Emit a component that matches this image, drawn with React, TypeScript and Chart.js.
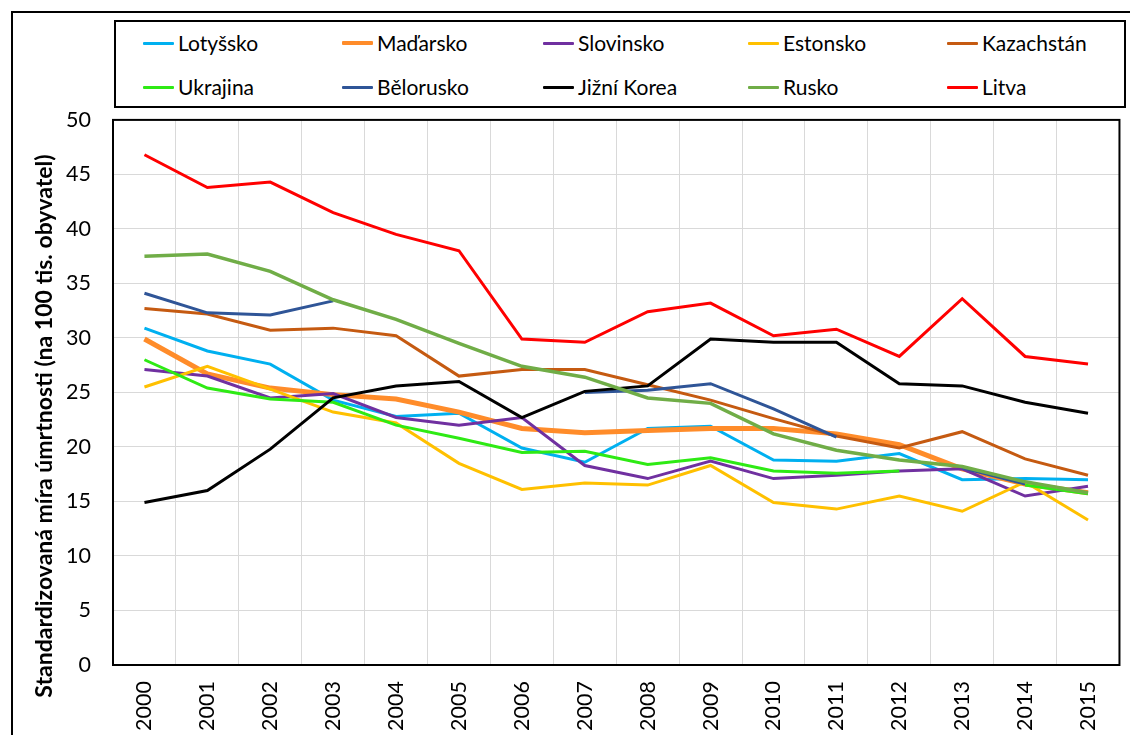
import React, { useEffect, useRef } from "react";
import { Chart, registerables } from "chart.js";
Chart.register(...registerables);

const years = ["2000", "2001", "2002", "2003", "2004", "2005", "2006", "2007", "2008", "2009", "2010", "2011", "2012", "2013", "2014", "2015"];

const lotyssko = [30.9, 28.8, 27.6, 24.3, 22.8, 23.1, 19.9, 18.6, 21.7, 21.9, 18.8, 18.7, 19.4, 17.0, 17.1, 17.0];
const madarsko = [29.9, 26.7, 25.4, 24.8, 24.4, 23.2, 21.7, 21.3, 21.5, 21.7, 21.7, 21.2, 20.2, 18.0, 16.6, 15.8];
const slovinsko = [27.1, 26.5, 24.5, 24.9, 22.7, 22.0, 22.7, 18.3, 17.1, 18.7, 17.1, 17.4, 17.8, 18.0, 15.5, 16.4];
const estonsko = [25.5, 27.4, 25.3, 23.2, 22.2, 18.5, 16.1, 16.7, 16.5, 18.3, 14.9, 14.3, 15.5, 14.1, 16.8, 13.3];
const kazachstan = [32.7, 32.2, 30.7, 30.9, 30.2, 26.5, 27.1, 27.1, 25.7, 24.3, 22.6, 21.0, 19.9, 21.4, 18.9, 17.4];
const ukrajina = [28.0, 25.4, 24.4, 24.1, 22.0, 20.8, 19.5, 19.6, 18.4, 19.0, 17.8, 17.6, 17.8, null, 16.5, 15.7];
const belorusko = [34.1, 32.3, 32.1, 33.4, null, null, null, 25.0, 25.2, 25.8, 23.5, 20.9, null, 18.1, 16.6, null];
const jizniKorea = [14.9, 16.0, 19.8, 24.5, 25.6, 26.0, 22.7, 25.1, 25.6, 29.9, 29.6, 29.6, 25.8, 25.6, 24.1, 23.1];
const rusko = [37.5, 37.7, 36.1, 33.5, 31.7, 29.5, 27.4, 26.4, 24.5, 24.0, 21.2, 19.7, 18.8, 18.2, 16.8, 15.8];
const litva = [46.8, 43.8, 44.3, 41.5, 39.5, 38.0, 29.9, 29.6, 32.4, 33.2, 30.2, 30.8, 28.3, 33.6, 28.3, 27.6];

const seriesNames = ["Lotyšsko", "Maďarsko", "Slovinsko", "Estonsko", "Kazachstán", "Ukrajina", "Bělorusko", "Jižní Korea", "Rusko", "Litva"];
const seriesValues = [lotyssko, madarsko, slovinsko, estonsko, kazachstan, ukrajina, belorusko, jizniKorea, rusko, litva];
const seriesColors = ["#00b0f0", "#ff8c2a", "#7030a0", "#ffc000", "#c55a11", "#2eea14", "#2f5597", "#000000", "#70ad47", "#ff0000"];
const seriesWidths = [3, 5, 3, 3, 3, 3, 3, 3, 3.5, 3];

const yTicks = { min: 0, max: 50, step: 5 };
const yTitle = "Standardizovaná míra úmrtnosti (na 100 tis. obyvatel)";

const FONT = "Lato, 'Open Sans', sans-serif";
const CANVAS_TOP = 85;

const framePlugin = {
  id: "frame",
  afterDraw(chart: any) {
    const { ctx, chartArea: a } = chart;
    ctx.save();
    ctx.strokeStyle = "#000";
    ctx.lineWidth = 2;
    ctx.strokeRect(a.left, a.top, a.right - a.left, a.bottom - a.top);
    ctx.translate(31, 426 - CANVAS_TOP);
    ctx.rotate(-Math.PI / 2);
    ctx.fillStyle = "#000";
    ctx.font = "bold 23px " + FONT;
    ctx.textAlign = "center";
    ctx.textBaseline = "middle";
    ctx.fillText(yTitle, 0, 0);
    ctx.restore();
  },
};

export default function App() {
  const ref = useRef<HTMLCanvasElement | null>(null);

  useEffect(() => {
    if (!ref.current) return;
    const n = seriesNames.length;
    const chart = new Chart(ref.current, {
      type: "line",
      data: {
        labels: years,
        datasets: seriesNames.map((name, i) => ({
          label: name,
          data: seriesValues[i],
          borderColor: seriesColors[i],
          backgroundColor: seriesColors[i],
          borderWidth: seriesWidths[i],
          pointRadius: 0,
          tension: 0,
          spanGaps: false,
          order: n - i,
        })),
      },
      options: {
        animation: false,
        responsive: false,
        devicePixelRatio: 1,
        layout: { padding: { top: 10, right: 6, left: 0, bottom: 0 } },
        plugins: { legend: { display: false }, tooltip: { enabled: false } },
        scales: {
          x: {
            type: "category",
            offset: true,
            grid: { offset: true, color: "#d9d9d9", lineWidth: 1, drawTicks: false },
            border: { color: "#000", width: 2 },
            ticks: {
              color: "#000",
              font: { family: FONT, size: 21.5 },
              maxRotation: 90,
              minRotation: 90,
              padding: 16,
              autoSkip: false,
            },
            afterFit(scale: any) {
              scale.height = 75;
            },
          },
          y: {
            min: yTicks.min,
            max: yTicks.max,
            grid: { color: "#d9d9d9", lineWidth: 1, drawTicks: false },
            border: { color: "#000", width: 2 },
            ticks: {
              stepSize: yTicks.step,
              color: "#000",
              font: { family: FONT, size: 21.5 },
              padding: 22,
            },
            afterFit(scale: any) {
              scale.width = 99;
            },
          },
        },
      },
      plugins: [framePlugin],
    } as any);
    return () => chart.destroy();
  }, []);

  const colX = [143, 342, 543, 748, 947];
  const rowY = [43, 87];

  return (
    <div style={{ position: "absolute", left: 0, top: 0, width: 1130, height: 735, overflow: "hidden", background: "#fff" }}>
      <div style={{ position: "absolute", left: 11, top: 11, width: 1300, height: 900, borderLeft: "2px solid #000", borderTop: "2px solid #000", boxSizing: "border-box" }} />
      <div style={{ position: "absolute", left: 114, top: 20, width: 1012, height: 88, border: "2px solid #000", boxSizing: "border-box", background: "#fff" }} />
      {seriesNames.map((name, i) => {
        const x = colX[i % 5];
        const y = rowY[Math.floor(i / 5)];
        const lw = Math.max(3, seriesWidths[i] - 1);
        return (
          <React.Fragment key={name}>
            <div style={{ position: "absolute", left: x, top: y - lw / 2, width: 31, height: lw, background: seriesColors[i], borderRadius: 1 }} />
            <div style={{ position: "absolute", left: x + 35, top: y - 15, height: 30, lineHeight: "30px", fontFamily: FONT, fontSize: 21, color: "#000", whiteSpace: "nowrap" }}>{name}</div>
          </React.Fragment>
        );
      })}
      <canvas ref={ref} width={1116} height={740 - CANVAS_TOP} style={{ position: "absolute", left: 14, top: CANVAS_TOP, width: 1116, height: 740 - CANVAS_TOP }} />
    </div>
  );
}
